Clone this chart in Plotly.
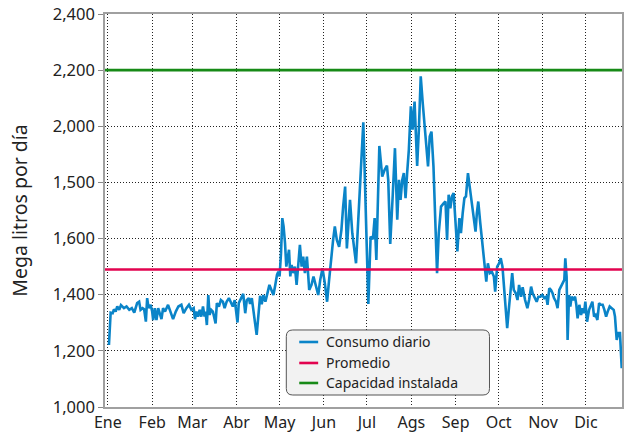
import plotly.graph_objects as go

# Daily consumption (day of year, megalitres per day)
dias = [0.8, 2, 3.4, 4.3, 5.5, 6.6, 8, 9.2, 11.3, 13.1, 15, 16.8, 18.5, 20.5, 21.9, 22.9, 24.3, 25.4,
        26.6, 27.5, 28.5, 29.9, 31, 31.7, 32.8, 34, 35.2, 36.3, 37.5, 38.6, 40, 42.1, 43.8, 45.6, 47.5,
        49.3, 51.4, 53, 54.9, 56.7, 58.4, 60, 60.9, 61.9, 63, 64.2, 65.3, 66.5, 67.6, 68.3, 69.2, 70.2,
        71.1, 72.3, 73.4, 75.3, 76.2, 77.6, 79, 80.4, 81.6, 83, 84.6, 86.2, 87.3, 88.7, 89.7, 90.6, 91.5,
        92.9, 94.6, 96, 97.1, 98.5, 99.4, 100.6, 101.7, 102.9, 104, 105.2, 106.4, 107.5, 108.7, 110.1,
        111.5, 112.9, 114.3, 115.7, 117, 118.2, 119.1, 120, 121, 121.9, 122.8, 123.8, 124.7, 125.6, 126.6,
        127.5, 128.4, 129.6, 130.7, 131.9, 133, 134.2, 135.4, 136.5, 137.7, 139.1, 140.7, 142.3, 143.7,
        145.4, 147, 148.4, 150, 151.6, 153.2, 154.6, 156.2, 157.4, 158.6, 160, 161.6, 163.2, 164.4, 165.8,
        167, 168.1, 169.2, 170.8, 172.2, 173.4, 178.5, 182, 183.6, 185.2, 186.4, 187.6, 189.7, 191.7,
        193.4, 195, 195.9, 197.3, 199, 200.6, 202.2, 203.4, 204.5, 205.7, 206.8, 208, 209.1, 210.3, 211.7,
        212.9, 214.3, 215.2, 216.1, 217.3, 218.6, 220, 221.9, 223.7, 224.9, 226.1, 227.5, 228.9, 230,
        231.2, 232.8, 234.7, 235.9, 237, 238.1, 239.3, 240.4, 241.6, 242.8, 244.2, 245.6, 246.7, 247.9,
        249.1, 250.2, 251.6, 252.8, 254.4, 255.5, 256.9, 257.8, 258.8, 260.2, 261.6, 263.2, 264.4, 265.5,
        266.9, 268.3, 269.7, 270.6, 272, 273.4, 274.5, 275.7, 276.6, 277.8, 279, 280.1, 281.3, 282.5,
        283.6, 285, 286.2, 287.3, 288.7, 289.8, 291.5, 293.1, 294.3, 295.7, 296.8, 298, 299.6, 300.8,
        302.2, 303.5, 304.9, 306.3, 307.2, 308.4, 309.6, 310.7, 311.7, 313.1, 314.2, 315.4, 316.6, 317.7,
        318.9, 319.6, 320.5, 321.2, 322.2, 323.1, 324, 325.2, 326.4, 327.3, 328.2, 329.4, 330.6, 331.7,
        332.7, 333.6, 334.8, 336.2, 337.3, 338.5, 339.7, 340.8, 342, 343.2, 344.3, 345.7, 346.9, 348.1,
        349.2, 350.6, 352, 353.4, 354.3, 355.5, 356.6, 357.8, 359]
consumo = [1221, 1336, 1334, 1348, 1340, 1358, 1346, 1363, 1352, 1358, 1346, 1352, 1336, 1370, 1375, 1346,
           1352, 1348, 1304, 1388, 1352, 1364, 1340, 1310, 1352, 1310, 1352, 1328, 1313, 1352, 1340, 1364,
           1340, 1313, 1340, 1358, 1364, 1334, 1352, 1364, 1346, 1352, 1313, 1340, 1322, 1346, 1322, 1358,
           1322, 1340, 1292, 1399, 1328, 1346, 1340, 1298, 1370, 1358, 1381, 1375, 1352, 1375, 1388, 1370,
           1358, 1381, 1346, 1301, 1370, 1388, 1403, 1334, 1381, 1388, 1367, 1388, 1334, 1298, 1257, 1316,
           1396, 1366, 1399, 1375, 1405, 1435, 1417, 1399, 1435, 1471, 1482, 1465, 1548, 1673, 1643, 1584,
           1500, 1536, 1560, 1465, 1506, 1477, 1500, 1435, 1512, 1578, 1500, 1536, 1477, 1536, 1417, 1435,
           1465, 1435, 1399, 1453, 1494, 1441, 1375, 1453, 1548, 1595, 1643, 1595, 1571, 1631, 1714, 1785,
           1565, 1643, 1738, 1619, 1548, 1512, 2014, 1367, 1607, 1598, 1673, 1524, 1930, 1821, 1845, 1860,
           1809, 1581, 1750, 1922, 1667, 1809, 1738, 1809, 1833, 1744, 1833, 1916, 2071, 1988, 2088, 1964,
           1859, 1988, 2178, 2083, 1952, 1857, 1964, 1981, 1857, 1678, 1477, 1619, 1714, 1726, 1732, 1595,
           1756, 1708, 1750, 1762, 1643, 1554, 1673, 1619, 1690, 1744, 1750, 1833, 1785, 1726, 1678, 1625,
           1690, 1732, 1655, 1584, 1512, 1447, 1512, 1477, 1482, 1465, 1411, 1500, 1512, 1530, 1500, 1441,
           1381, 1281, 1346, 1417, 1477, 1417, 1405, 1381, 1435, 1393, 1427, 1381, 1352, 1381, 1429, 1405,
           1393, 1375, 1393, 1393, 1399, 1388, 1393, 1364, 1423, 1417, 1405, 1388, 1375, 1352, 1417, 1429,
           1441, 1453, 1530, 1465, 1239, 1399, 1358, 1393, 1381, 1393, 1364, 1316, 1364, 1328, 1352, 1334,
           1375, 1304, 1346, 1364, 1375, 1322, 1328, 1310, 1370, 1364, 1364, 1346, 1322, 1340, 1358, 1352,
           1346, 1322, 1239, 1263, 1263, 1138]

anio = [-2, 365]
promedio = 1490
capacidad = 2200

meses_dia = [0, 31, 59, 90, 120, 151, 181, 212, 243, 273, 304, 334]
meses_txt = ["Ene", "Feb", "Mar", "Abr", "May", "Jun", "Jul", "Ags", "Sep", "Oct", "Nov", "Dic"]

y_vals = [1000, 1200, 1400, 1600, 1800, 2000, 2200, 2400]
y_txt = ["1,000", "1,200", "1,400", "1,600", "1,500", "2,000", "2,200", "2,400"]

series = ["Consumo diario", "Promedio", "Capacidad instalada"]

FONT = "Noto Sans"
AZUL = "#0a84c8"
ROJO = "#e2034f"
VERDE = "#178a17"
colores = [AZUL, ROJO, VERDE]

fig = go.Figure()
fig.add_trace(go.Scatter(x=dias, y=consumo, mode="lines", name=series[0],
                         line=dict(color=AZUL, width=2.6)))
fig.add_trace(go.Scatter(x=anio, y=[promedio, promedio], mode="lines", name=series[1],
                         line=dict(color=ROJO, width=2.6)))
fig.add_trace(go.Scatter(x=anio, y=[capacidad, capacidad], mode="lines", name=series[2],
                         line=dict(color=VERDE, width=2.6)))

# rounded legend frame (paper coordinates)
x0, x1, y0, y1 = 0.3507, 0.7437, 0.0305, 0.196
rx, ry = 0.0125, 0.0165
path = (f"M{x0+rx},{y0} L{x1-rx},{y0} Q{x1},{y0} {x1},{y0+ry} L{x1},{y1-ry} "
        f"Q{x1},{y1} {x1-rx},{y1} L{x0+rx},{y1} Q{x0},{y1} {x0},{y1-ry} "
        f"L{x0},{y0+ry} Q{x0},{y0} {x0+rx},{y0} Z")
fig.add_shape(type="path", path=path, xref="paper", yref="paper",
              fillcolor="#f2f2f2", line=dict(color="#555555", width=1), layer="above")

# legend entries: short swatch + label
filas = [0.1654, 0.112, 0.0611]
for nombre, color, fy in zip(series, colores, filas):
    fig.add_shape(type="line", xref="paper", yref="paper", x0=0.3757, x1=0.4123, y0=fy, y1=fy,
                  line=dict(color=color, width=2.6), layer="above")
    fig.add_annotation(x=0.4239, y=fy, xref="paper", yref="paper", text=nombre, showarrow=False,
                       xanchor="left", yanchor="middle", font=dict(family=FONT, size=14, color="#222"))

fig.update_layout(
    width=624, height=435,
    margin=dict(l=105, r=0, t=14, b=28),
    paper_bgcolor="white", plot_bgcolor="white",
    font=dict(family=FONT, size=16, color="#222"),
    showlegend=False,
    xaxis=dict(range=[-1.95, 359.2], tickmode="array", tickvals=meses_dia, ticktext=meses_txt,
               showgrid=True, gridcolor="#222", griddash="1px,2px", gridwidth=1,
               showline=True, linecolor="#a0a0a0", linewidth=1.5, mirror=True,
               ticks="", zeroline=False, tickfont=dict(size=16)),
    yaxis=dict(range=[1000, 2400], tickmode="array", tickvals=y_vals, ticktext=y_txt,
               showgrid=True, gridcolor="#222", griddash="1px,2px", gridwidth=1,
               showline=True, linecolor="#a0a0a0", linewidth=1.5, mirror=True,
               ticks="outside", ticklen=5, tickcolor="#888", tickwidth=1, zeroline=False,
               tickfont=dict(size=16.5),
               title=dict(text="Mega litros por día", font=dict(size=19.5), standoff=20)),
)

fig.write_html("out.html")
